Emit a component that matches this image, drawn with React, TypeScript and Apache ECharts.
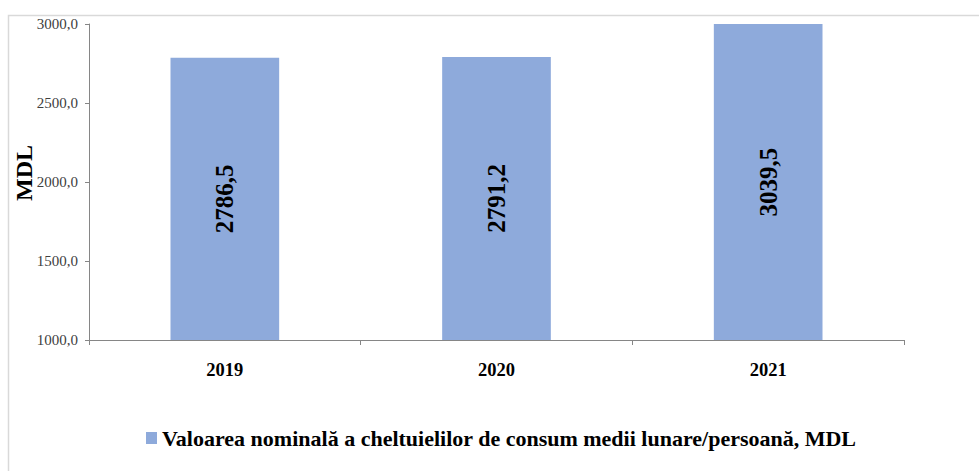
import React, { useEffect, useRef } from "react";
import * as echarts from "echarts";

const categories = ["2019", "2020", "2021"];
const values = [2786.5, 2791.2, 3039.5];
const seriesName = "Valoarea nominală a cheltuielilor de consum medii lunare/persoană, MDL";
const yAxisTitle = "MDL";
const yMin = 1000;
const yMax = 3000;
const yInterval = 500;

const fmt = (v: number) => v.toFixed(1).replace(".", ",");

export default function App() {
  const ref = useRef<HTMLDivElement>(null);
  useEffect(() => {
    if (!ref.current) return;
    const chart = echarts.init(ref.current, null, { renderer: "svg" });
    const serif = "Liberation Serif";
    chart.setOption({
      animation: false,
      backgroundColor: "#ffffff",
      graphic: [
        {
          type: "rect",
          shape: { x: 8.5, y: 15.5, width: 1000, height: 500 },
          style: { fill: "none", stroke: "#d9d9d9", lineWidth: 1.5 },
          silent: true,
        },
        {
          type: "text",
          x: 24,
          y: 173,
          rotation: Math.PI / 2,
          style: {
            text: yAxisTitle,
            fontFamily: serif,
            fontWeight: "bold",
            fontSize: 24,
            fill: "#000",
            align: "center",
            verticalAlign: "middle",
          },
          silent: true,
        },
      ],
      grid: { left: 89, top: 24, right: 75, bottom: 131, containLabel: false },
      legend: {
        left: 141,
        top: 422,
        itemWidth: 11,
        itemHeight: 12,
        itemGap: 5,
        icon: "rect",
        textStyle: { fontFamily: serif, fontWeight: "bold", fontSize: 22, color: "#000" },
        data: [seriesName],
      },
      xAxis: {
        type: "category",
        data: categories,
        axisLine: { lineStyle: { color: "#868686", width: 1 } },
        axisTick: { show: true, length: 5, lineStyle: { color: "#868686" } },
        axisLabel: {
          margin: 20,
          fontFamily: serif,
          fontWeight: "bold",
          fontSize: 18.5,
          color: "#000",
        },
      },
      yAxis: {
        type: "value",
        min: yMin,
        max: yMax,
        interval: yInterval,
        axisLine: { show: true, lineStyle: { color: "#868686", width: 1 } },
        axisTick: { show: true, length: 4, lineStyle: { color: "#868686" } },
        splitLine: { show: false },
        axisLabel: {
          margin: 11,
          fontFamily: serif,
          fontSize: 15,
          color: "#404040",
          formatter: (v: number) => fmt(v),
        },
      },
      series: [
        {
          name: seriesName,
          type: "bar",
          data: values,
          barWidth: "40%",
          clip: true,
          itemStyle: { color: "#8eaadb" },
          label: {
            show: true,
            position: "inside",
            rotate: 90,
            fontFamily: serif,
            fontWeight: "bold",
            fontSize: 25,
            color: "#000",
            formatter: (p: any) => fmt(p.value),
          },
        },
      ],
    });
    return () => chart.dispose();
  }, []);
  return (
    <div
      ref={ref}
      style={{ position: "fixed", left: 0, top: 0, width: 979, height: 471 }}
    />
  );
}
